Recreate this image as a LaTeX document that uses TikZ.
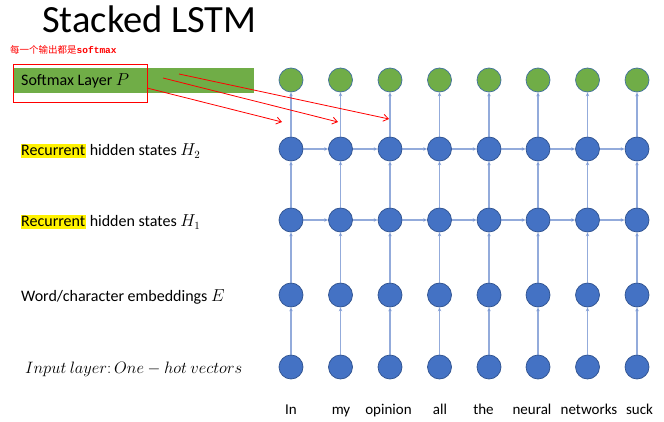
\documentclass[tikz,border=0pt]{standalone}
\usepackage{fontspec}
\setmainfont{Carlito}
\newfontfamily\cjk{Noto Sans CJK SC}
\newfontfamily\monof{Liberation Mono}
\usetikzlibrary{arrows.meta}
\definecolor{nblue}{HTML}{4472C4}
\definecolor{nborder}{HTML}{2F528F}
\definecolor{ngreen}{HTML}{70AD47}
\definecolor{gborder}{HTML}{41719C}
\definecolor{lblue}{HTML}{6F8FD0}
\begin{document}
\begin{tikzpicture}[x=1pt,y=-1pt,
  unit/.style={circle,fill=nblue,draw=nborder,line width=0.7pt,minimum size=24pt,inner sep=0pt},
  outunit/.style={circle,fill=ngreen,draw=gborder,line width=0.7pt,minimum size=24pt,inner sep=0pt},
  conn/.style={draw=lblue,line width=1.1pt,opacity=0.75,-{Stealth[length=4pt,width=3.5pt]}},
  lbl/.style={anchor=base west,inner sep=0pt,font=\fontsize{16}{19}\selectfont},
  hl/.style={anchor=base west,inner xsep=0.5pt,inner ysep=2pt,fill=yellow,font=\fontsize{16}{19}\selectfont},
  word/.style={anchor=base,inner sep=0pt,font=\fontsize{15}{18}\selectfont},
  redarrow/.style={draw=red,line width=0.8pt,-{Straight Barb[length=5pt,width=7pt]}}]
\useasboundingbox (0,0) rectangle (664,422);
\fill[white] (0,0) rectangle (664,422);
% title
\node[inner sep=0pt,anchor=base west,font=\fontsize{38.5}{44}\selectfont] (title) at (42,33) {Stacked LSTM};
\node[inner sep=0pt,anchor=base west,text=red,font=\fontsize{9.5}{11}\selectfont] (note) at (10,53.5) {\cjk 每一个输出都是\monof\bfseries softmax};
% softmax bar
\fill[ngreen] (13,68) rectangle (254,93);
\node[lbl] (softlbl) at (21,86) {Softmax Layer $P$};
\node[draw=red,line width=1pt,minimum width=134pt,minimum height=38pt,inner sep=0pt,anchor=north west] (redbox) at (13,64) {};
% labels
\node[hl] (h2hl) at (20.5,156) {Recurrent};
\node[lbl] (h2lbl) at (h2hl.base east) {\ hidden states $H_2$};
\node[hl] (h1hl) at (20.5,227) {Recurrent};
\node[lbl] (h1lbl) at (h1hl.base east) {\ hidden states $H_1$};
\node[lbl] (elbl) at (21,301) {Word/character embeddings $E$};
\node[lbl,scale=0.955] (inlbl) at (25,373) {$Input\ layer\colon One - hot\ vectors$};
% nodes
\foreach \i/\x in {1/291,2/340.5,3/390,4/439.5,5/489,6/538,7/587.5,8/637}{
  \node[outunit] (o\i) at (\x,80) {};
  \node[unit] (hb\i) at (\x,149) {};
  \node[unit] (ha\i) at (\x,220) {};
  \node[unit] (e\i) at (\x,295) {};
  \node[unit] (in\i) at (\x,367) {};
  \draw[conn] (in\i) -- (e\i);
  \draw[conn] (e\i) -- (ha\i);
  \draw[conn] (ha\i) -- (hb\i);
  \draw[conn] (hb\i) -- (o\i);
}
\foreach \i/\x/\w in {1/291/In,2/341/my,3/388.5/opinion,4/440/all,5/483.5/the,6/532/neural,7/589/networks,8/639.5/suck}{
  \node[word] (w\i) at (\x,414) {\w};
}
\foreach \i/\j in {1/2,2/3,3/4,4/5,5/6,6/7,7/8}{
  \draw[conn] (ha\i) -- (ha\j);
  \draw[conn] (hb\i) -- (hb\j);
}
% red arrows
\coordinate (r1s) at (147,88);
\coordinate (r1e) at (282,122);
\coordinate (r2s) at (163,78);
\coordinate (r2e) at (338,122);
\coordinate (r3s) at (179,74);
\coordinate (r3e) at (389,119);
\draw[redarrow] (r1s) -- (r1e);
\draw[redarrow] (r2s) -- (r2e);
\draw[redarrow] (r3s) -- (r3e);
\end{tikzpicture}
\end{document}
